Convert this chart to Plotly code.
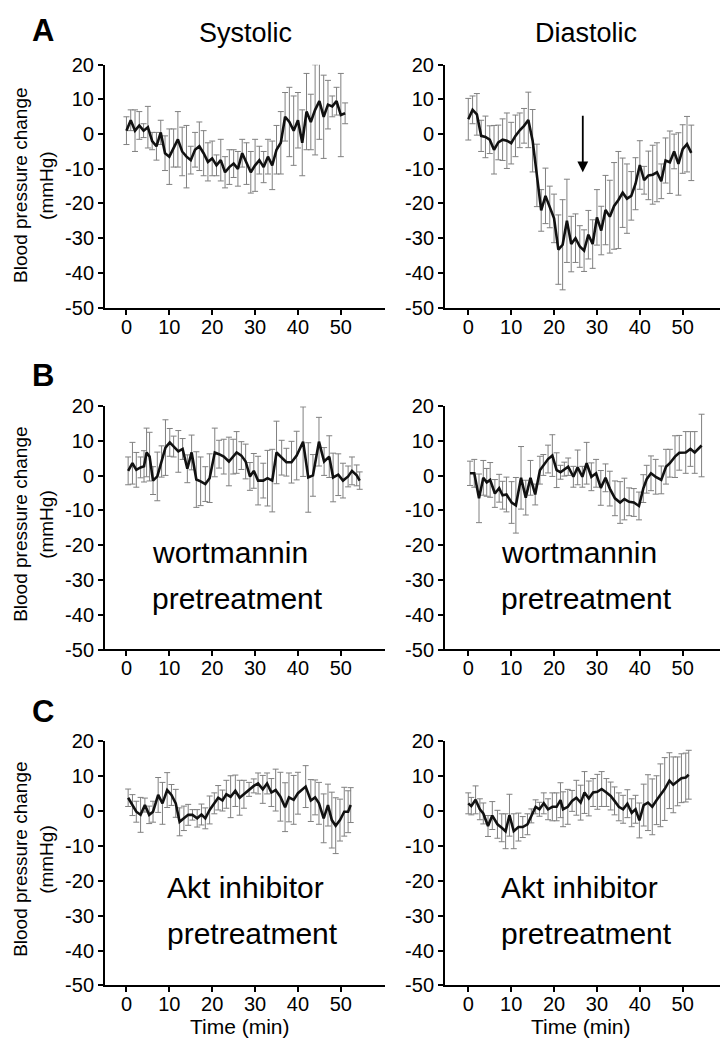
import plotly.graph_objects as go

# ---------------- data ----------------
tick_x = [0, 10, 20, 30, 40, 50]
tick_y = [20, 10, 0, -10, -20, -30, -40, -50]
tick_y_text = ["20", "10", "0", "-10", "-20", "-30", "-40", "-50"]

# Row A - Systolic
t_a_sys = [0, 1, 2, 3, 4, 5, 6, 7, 8, 9, 10, 11, 12, 13, 14, 15, 16, 17, 18, 19,
           20, 21, 22, 23, 24, 25, 26, 27, 28, 29, 30, 31, 32, 33, 34, 35, 36, 37, 38, 39,
           40, 41, 42, 43, 44, 45, 46, 47, 48, 49, 50, 51]
v_a_sys = [1, 4, 1, 2.5, 1, 2, -2, -3.5, 0.5, -5.5, -6.5, -4, -1.5, -5, -6.5, -7.5, -4.5, -3.5, -5.5, -8,
           -7, -9, -7.5, -11, -9.5, -8.5, -10, -5.5, -8.5, -11, -9, -7.5, -9.5, -6.5, -9, -4.5, -2.5, 5, 3.5, 1,
           4, -2.5, 6.5, 3.5, 7, 9.5, 5, 8.5, 8, 9.5, 5.5, 6]
e_a_sys = [4, 3, 6, 4, 2, 6, 2.5, 4, 3.5, 5, 8, 5.5, 8, 7, 9, 4, 5, 7, 6.5, 5.5,
           5, 3, 6, 4.5, 5, 4, 5, 4, 6, 6, 7.5, 4, 4.5, 5, 7, 7, 9, 7, 10, 10,
           8, 9.5, 11, 8, 13, 11, 12, 7, 3, 4, 12, 3]

# Row A - Diastolic
t_a_dia = [0, 1, 2, 3, 4, 5, 6, 7, 8, 9, 10, 11, 12, 13, 14, 15, 16, 17, 18, 19,
           20, 21, 22, 23, 24, 25, 26, 27, 28, 29, 30, 31, 32, 33, 34, 35, 36, 37, 38, 39,
           40, 41, 42, 43, 44, 45, 46, 47, 48, 49, 50, 51, 52]
v_a_dia = [4.3, 7, 5.7, -0.5, -0.8, -1.6, -4.5, -2.4, -1.6, -1.9, -2.6, -0.5, 1.1, 2.4, 4.1, -1.9, -11.9, -22, -17.8, -21,
           -24.3, -33.3, -31.9, -25, -31.7, -30, -32.4, -33.6, -29, -31.7, -24, -27.8, -21.9, -23.8, -20.7, -19, -16.9, -18.6, -17.8, -14.3,
           -8.9, -13.3, -11.9, -11.7, -11, -13.6, -7.6, -8.1, -5, -8.6, -4.3, -2.9, -5.4]
e_a_dia = [6, 4, 6, 4.5, 6, 4, 7, 5, 6, 8, 6, 6, 5, 5, 8, 9, 9, 6, 8, 6,
           7, 10, 13, 12, 8, 7, 6, 6, 7, 7, 8, 7, 10, 10.5, 12.5, 14, 10, 10, 7, 7.5,
           7, 4, 7, 8.5, 8.5, 5, 6.5, 9, 5, 9, 7, 8, 8]

# Row B - Systolic (wortmannin)
t_b_sys = [0.4, 1.4, 2.3, 3.3, 4.1, 4.7, 5.4, 6.2, 7.2, 8.2, 9.1, 10.1, 11.0, 12.1, 13.1, 14.2, 15.2, 16.3, 17.3, 18.4,
           19.4, 20.6, 21.6, 22.7, 23.9, 24.9, 25.7, 26.8, 27.8, 28.8, 29.7, 30.7, 31.9, 32.9, 34.0, 35.0, 36.2, 37.3, 38.5, 39.7,
           41.2, 42.4, 43.5, 44.9, 46.1, 47.3, 48.2, 49.4, 50.5, 51.7, 52.6, 53.7, 54.4]
v_b_sys = [1.4, 3.6, 1.7, 2.4, 2.7, 6.7, 5.5, -1.4, -0.2, 4.1, 8.1, 9.6, 8.4, 7.0, 7.7, 2.0, 6.7, -1.1, -1.6, -2.4,
           -0.7, 6.7, 6.2, 5.5, 4.1, 5.5, 6.7, 5.8, 4.1, -0.2, 1.4, -1.4, -1.4, -0.7, -1.4, 6.7, 5.2, 3.9, 3.9, 5.8,
           9.8, -0.5, 0.1, 9.8, 4.1, 5.5, -0.5, 0.3, -1.4, -0.2, 1.4, 0.1, -1.4]
e_b_sys = [4, 6, 5, 3, 4.5, 7, 7, 4, 7, 4.5, 8, 4, 3, 6, 3, 4, 5, 8, 7, 5,
           7, 7, 4, 5, 7, 5, 6, 4, 5, 4, 5, 7, 5, 8, 9, 9, 5, 4, 6, 7,
           10, 10, 6, 7, 4, 6, 7, 6, 5, 3, 4, 3, 2.5]

# Row B - Diastolic (wortmannin)
t_b_dia = [0.4, 1.4, 2.5, 3.5, 4.3, 5.1, 6.2, 7.2, 8.0, 8.9, 10.1, 11.1, 12.3, 13.4, 14.5, 15.6, 16.7, 17.5, 18.6, 19.6,
           20.6, 21.5, 22.4, 23.3, 24.5, 25.5, 26.6, 27.6, 28.7, 29.8, 30.9, 32.0, 33.0, 34.2, 35.4, 36.4, 37.5, 38.6, 39.8, 40.8,
           41.6, 42.6, 43.7, 45.0, 46.1, 47.0, 48.2, 49.2, 50.7, 51.8, 52.8, 54.4]
v_b_dia = [0.7, 0.7, -6.5, -0.6, -1.9, -1.2, -5.1, -3.6, -5.6, -5.4, -7.7, -8.5, -0.6, -6.3, -0.6, -5.4, 1.6, 3.1, 4.8, 5.8,
           1.6, 1.0, 1.9, 2.6, -0.3, 2.4, -0.3, 3.6, -0.3, 0.7, -3.5, -0.6, -3.7, -6.5, -7.7, -6.7, -7.5, -7.7, -8.7, -3.7,
           -1.0, 0.7, -0.3, -1.2, 2.6, 3.6, 5.5, 6.6, 6.7, 7.7, 6.7, 8.7]
e_b_dia = [3.5, 4, 7, 5, 4, 5, 4, 4, 4, 5, 6, 8, 9, 5, 5, 3, 4, 3, 4, 6,
           5, 2, 2, 2.5, 3, 5, 3, 6, 4, 4, 5, 4, 5, 5, 6, 6, 4, 4, 4, 4,
           4, 5, 5, 4, 5, 4, 6, 5, 6, 5, 6, 9]

# Row C - Systolic (Akt inhibitor)
t_c_sys = [0.4, 1.4, 2.3, 3.3, 4.3, 5.3, 6.2, 7.4, 8.4, 9.5, 10.5, 11.5, 12.4, 13.4, 14.4, 15.4, 16.5, 17.5, 18.4, 19.4,
           20.5, 21.4, 22.4, 23.3, 24.3, 25.4, 26.4, 27.4, 28.6, 29.7, 30.7, 31.8, 32.8, 33.8, 34.8, 35.9, 37.0, 37.9, 39.0, 40.0,
           41.8, 43.0, 44.0, 44.9, 46.0, 47.0, 47.9, 48.8, 49.8, 50.8, 51.7, 52.3]
v_c_sys = [3.8, 1.7, -0.2, -1.1, 1.7, -1.1, -0.2, 4.6, 2.2, 6.0, 4.6, 2.2, -3.1, -2.1, -1.1, -1.1, -2.1, -1.0, -2.1, 0.3,
           2.2, 3.8, 3.0, 4.8, 4.1, 5.8, 3.8, 4.8, 6.2, 7.2, 7.9, 6.2, 7.9, 5.3, 6.0, 4.1, 1.1, 3.9, 3.2, 5.1,
           7.0, 3.0, 3.9, 2.2, -2.1, 1.7, -2.6, -4.2, -2.6, -0.2, -0.2, 1.7]
e_c_sys = [2.5, 3, 3, 5, 2, 2.5, 3, 5, 6, 5, 3, 4, 4, 3.5, 3, 1.5, 2.5, 3, 3, 4,
           3, 3.5, 3, 4, 6, 4.5, 5, 4, 2, 2, 3, 4, 3, 4, 6, 7, 7, 7, 7, 6,
           6, 6, 5, 6, 7, 6, 8, 8, 6, 7, 6, 5]

# Row C - Diastolic (Akt inhibitor)
t_c_dia = [0, 0.7, 1.7, 2.7, 3.5, 4.6, 5.6, 6.8, 7.8, 8.7, 9.6, 10.6, 11.7, 12.7, 13.8, 14.7, 15.7, 16.6, 17.6, 18.6,
           19.6, 20.6, 21.5, 22.1, 23.2, 24.2, 25.2, 26.2, 27.1, 28.1, 29.1, 30.1, 31.1, 32.2, 33.2, 34.1, 35.1, 36.1, 37.1, 38.1,
           39.0, 39.9, 40.9, 41.9, 42.9, 43.9, 44.8, 45.8, 46.9, 47.8, 48.8, 49.7, 50.7, 51.4]
v_c_dia = [2.2, 1.4, 3.2, 0.5, -0.7, -4.3, -1.3, -3.8, -4.8, -5.8, -1.2, -5.8, -4.6, -4.6, -3.8, -1.4, 1.2, 0.5, 2.2, 0.5,
           1.2, 1.2, 3.1, 0.5, 1.2, 2.9, 3.8, 2.4, 5.3, 3.6, 5.3, 5.5, 6.3, 5.3, 4.3, 2.9, 1.2, 0.5, 2.1, -0.5,
           0.5, -2.7, 1.7, 2.4, 1.2, 3.1, 4.5, 6.3, 8.7, 7.5, 8.5, 9.4, 9.6, 10.4]
e_c_dia = [3, 2.5, 4, 3, 3, 3, 4, 4, 4, 5, 6, 5, 4, 3, 3, 2, 2, 2, 3, 3,
           4, 4, 5, 5, 5, 3, 5, 5, 6, 5, 4, 5, 5, 4, 4, 4, 4, 4, 4, 4,
           4, 5, 6, 8, 8, 7, 9, 9, 8, 8, 7, 7, 7, 7]

series = [
    (t_a_sys, v_a_sys, e_a_sys), (t_a_dia, v_a_dia, e_a_dia),
    (t_b_sys, v_b_sys, e_b_sys), (t_b_dia, v_b_dia, e_b_dia),
    (t_c_sys, v_c_sys, e_c_sys), (t_c_dia, v_c_dia, e_c_dia),
]

col_titles = ["Systolic", "Diastolic"]
row_letters = ["A", "B", "C"]
row_notes = [None, ["wortmannin", "pretreatment"], ["Akt inhibitor", "pretreatment"]]
y_title = ["Blood pressure change", "(mmHg)"]
x_title = "Time (min)"

# ---------------- layout geometry ----------------
W, H = 728, 1050
FONT = "Liberation Sans, Arial, Helvetica, sans-serif"

# target pixel positions (as seen in the photographed page) -> figure pixels
def tx(x):
    return x - 8

def ty(y):
    return (y - 16.6) / 0.982

def px_x(x):
    return tx(x) / W

def px_y(y):
    return 1 - ty(y) / H

col_px = [(105, 385), (445, 725)]
col_range = [[-5, 60.3], [-5.43, 59.86]]
row_px = [(62.5, 306), (405, 649), (741, 986)]

fig = go.Figure()
layout = dict(
    width=W, height=H, margin=dict(l=0, r=0, t=0, b=0),
    paper_bgcolor="white", plot_bgcolor="white", showlegend=False,
    font=dict(family=FONT, color="black"),
)

axis_common = dict(
    showline=True, linecolor="black", linewidth=2, showgrid=False, zeroline=False,
    ticks="outside", ticklen=5, tickwidth=1.5, tickcolor="black",
    tickfont=dict(family=FONT, size=20, color="black"), fixedrange=True,
)

for i, (t, v, e) in enumerate(series):
    r, c = divmod(i, 2)
    k = i + 1
    xa = "x" if k == 1 else f"x{k}"
    ya = "y" if k == 1 else f"y{k}"
    fig.add_trace(go.Scatter(
        x=t, y=v, xaxis=xa, yaxis=ya, mode="markers",
        marker=dict(size=1, color="rgba(0,0,0,0)"),
        error_y=dict(type="data", array=e, symmetric=True, color="#808080", thickness=1, width=3),
        hoverinfo="skip",
    ))
    fig.add_trace(go.Scatter(
        x=t, y=v, xaxis=xa, yaxis=ya, mode="lines",
        line=dict(color="#111111", width=2.6),
    ))
    x0, x1 = col_px[c]
    y0, y1 = row_px[r]
    layout[f"xaxis{k}" if k > 1 else "xaxis"] = dict(
        axis_common, domain=[px_x(x0), px_x(x1)], range=col_range[c],
        tickvals=tick_x, anchor=ya, ticklabelstandoff=-5,
    )
    layout[f"yaxis{k}" if k > 1 else "yaxis"] = dict(
        axis_common, domain=[px_y(y1), px_y(y0)], range=[-50, 20],
        tickvals=tick_y, ticktext=tick_y_text, anchor=xa,
    )

def text_ann(txt, x, y, size, angle=0, xanchor="center"):
    return dict(text=txt, x=px_x(x), y=px_y(y), xref="paper", yref="paper",
                xanchor=xanchor, yanchor="middle", showarrow=False, textangle=angle,
                borderpad=0, font=dict(size=size, family=FONT, color="black"))

ann = []
for c, txt in enumerate(col_titles):
    ann.append(text_ann(txt, [245, 586][c], 31, 27))
for r, letter in enumerate(row_letters):
    ann.append(text_ann(f"<b>{letter}</b>", 43, [28, 374, 711][r], 31))
    yc = [184, 524, 860][r]
    ann.append(text_ann(y_title[0], 21, yc, 19, angle=-90))
    ann.append(text_ann(y_title[1], 47, yc, 19, angle=-90))
    notes = row_notes[r]
    if notes:
        for c in range(2):
            left = [[151, 500], [166, 500]][r - 1][c]
            for j, line in enumerate(notes):
                yy = row_px[r][0] + [147, 193][j]
                ann.append(text_ann(line, left, yy, 30, xanchor="left"))
for c in range(2):
    ann.append(text_ann(x_title, [240, 581][c], 1027, 21))
ann.append(dict(text="", x=26.7, y=-11, ax=26.7, ay=5.7, xref="x2", yref="y2", axref="x2", ayref="y2",
                showarrow=True, arrowhead=2, arrowsize=1.2, arrowwidth=1.8, arrowcolor="black"))
layout["annotations"] = ann

fig.update_layout(**layout)
fig.write_html("out.html")
